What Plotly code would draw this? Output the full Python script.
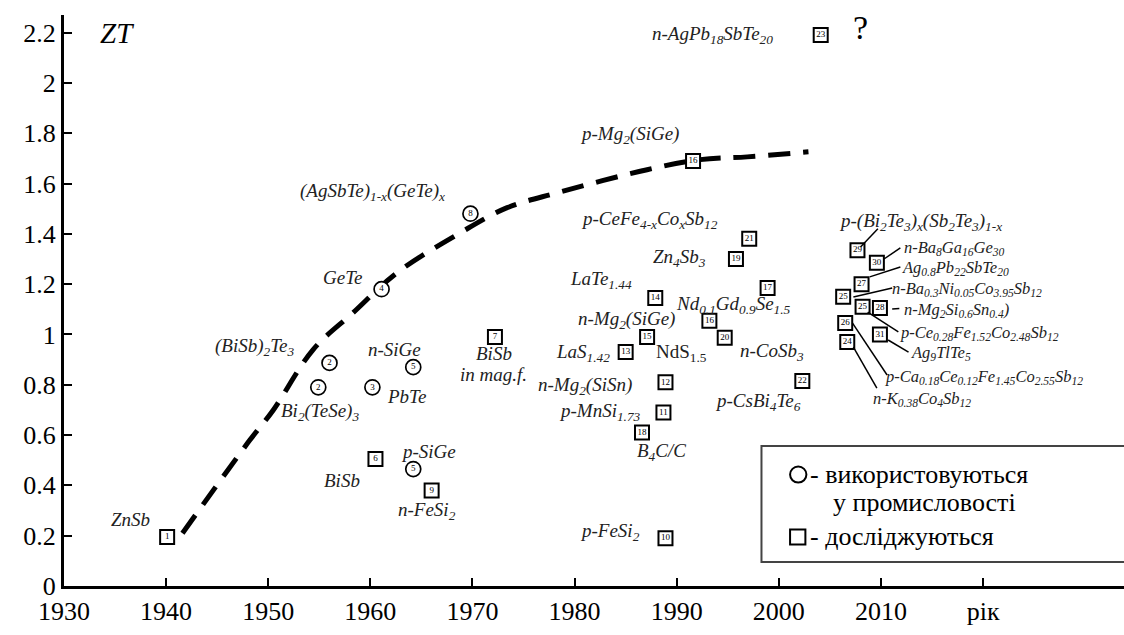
import plotly.graph_objects as go

# ---------------- data ----------------
# materials used in industry (circles)
circ_year = [1956.0, 1954.9, 1960.2, 1961.1, 1964.2, 1964.2, 1969.8]
circ_zt = [0.887, 0.79, 0.79, 1.18, 0.87, 0.465, 1.48]
circ_num = ["2", "2", "3", "4", "5", "5", "8"]

# materials under research (squares)
sq_year = [1940.1, 1960.5, 1972.2, 1966.0, 1988.9, 1988.7, 1988.9, 1985.0, 1987.9,
           1987.1, 1993.2, 1991.6, 1998.9, 1986.6, 1995.8, 1994.7, 1997.1, 2002.3,
           2004.1, 2007.7, 2009.6, 2008.1, 2006.3, 2008.2, 2009.9, 2006.5, 2009.9, 2006.7]
sq_zt = [0.195, 0.505, 0.99, 0.38, 0.19, 0.69, 0.81, 0.93, 1.145,
         0.99, 1.054, 1.69, 1.185, 0.61, 1.30, 0.987, 1.38, 0.815,
         2.19, 1.335, 1.285, 1.20, 1.15, 1.11, 1.105, 1.046, 1.00, 0.97]
sq_num = ["1", "6", "7", "9", "10", "11", "12", "13", "14",
          "15", "16", "16", "17", "18", "19", "20", "21", "22",
          "23", "29", "30", "27", "25", "25", "28", "26", "31", "24"]

# trend (dashed) curve
trend_year = [1941.6, 1948.2, 1950.5, 1954.4, 1958.3, 1962.6, 1968.8, 1973.4,
              1978.3, 1987.1, 1992.3, 1996.9, 2002.9]
trend_zt = [0.21, 0.58, 0.70, 0.94, 1.086, 1.245, 1.404, 1.504,
            1.563, 1.655, 1.695, 1.706, 1.726]

# material labels: (text, year, ZT, anchor, italic)
labels = [
    ("ZnSb", 1936.5, 0.266, "center", True),
    ("(BiSb)<sub>2</sub>Te<sub>3</sub>", 1948.7, 0.95, "center", True),
    ("Bi<sub>2</sub>(TeSe)<sub>3</sub>", 1955.1, 0.69, "center", True),
    ("PbTe", 1963.5, 0.755, "center", True),
    ("GeTe", 1957.3, 1.225, "center", True),
    ("n-SiGe", 1962.4, 0.94, "center", True),
    ("p-SiGe", 1965.7, 0.533, "center", True),
    ("BiSb", 1957.2, 0.42, "center", True),
    ("n-FeSi<sub>2</sub>", 1965.5, 0.30, "center", True),
    ("BiSb", 1972.1, 0.925, "center", True),
    ("in mag.f.", 1972.1, 0.842, "center", True),
    ("(AgSbTe)<sub>1-x</sub>(GeTe)<sub>x</sub>", 1960.2, 1.567, "center", True),
    ("p-Mg<sub>2</sub>(SiGe)", 1985.4, 1.793, "center", True),
    ("n-AgPb<sub>18</sub>SbTe<sub>20</sub>", 1993.5, 2.19, "center", True),
    ("p-CeFe<sub>4-x</sub>Co<sub>x</sub>Sb<sub>12</sub>", 1987.3, 1.455, "center", True),
    ("Zn<sub>4</sub>Sb<sub>3</sub>", 1990.3, 1.304, "center", True),
    ("LaTe<sub>1.44</sub>", 1982.6, 1.217, "center", True),
    ("Nd<sub>0.1</sub>Gd<sub>0.9</sub>Se<sub>1.5</sub>", 1995.6, 1.117, "center", True),
    ("n-Mg<sub>2</sub>(SiGe)", 1985.1, 1.058, "center", True),
    ("LaS<sub>1.42</sub>", 1980.8, 0.926, "center", True),
    ("NdS<sub>1.5</sub>", 1990.5, 0.926, "center", False),
    ("n-CoSb<sub>3</sub>", 1999.3, 0.93, "center", True),
    ("n-Mg<sub>2</sub>(SiSn)", 1981.0, 0.795, "center", True),
    ("p-MnSi<sub>1.73</sub>", 1982.5, 0.69, "center", True),
    ("B<sub>4</sub>C/C", 1988.5, 0.533, "center", True),
    ("p-FeSi<sub>2</sub>", 1983.5, 0.215, "center", True),
    ("p-CsBi<sub>4</sub>Te<sub>6</sub>", 1998.0, 0.73, "center", True),
    ("p-(Bi<sub>2</sub>Te<sub>3</sub>)<sub>x</sub>(Sb<sub>2</sub>Te<sub>3</sub>)<sub>1-x</sub>", 2013.9, 1.447, "center", True),
    ("n-Ba<sub>8</sub>Ga<sub>16</sub>Ge<sub>30</sub>", 2012.1, 1.344, "left", True),
    ("Ag<sub>0.8</sub>Pb<sub>22</sub>SbTe<sub>20</sub>", 2011.9, 1.264, "left", True),
    ("n-Ba<sub>0.3</sub>Ni<sub>0.05</sub>Co<sub>3.95</sub>Sb<sub>12</sub>", 2010.9, 1.180, "left", True),
    ("n-Mg<sub>2</sub>Si<sub>0.6</sub>Sn<sub>0.4</sub>)", 2012.1, 1.097, "left", True),
    ("p-Ce<sub>0.28</sub>Fe<sub>1.52</sub>Co<sub>2.48</sub>Sb<sub>12</sub>", 2011.7, 1.006, "left", True),
    ("Ag<sub>9</sub>TlTe<sub>5</sub>", 2012.7, 0.926, "left", True),
    ("p-Ca<sub>0.18</sub>Ce<sub>0.12</sub>Fe<sub>1.45</sub>Co<sub>2.55</sub>Sb<sub>12</sub>", 2010.2, 0.832, "left", True),
    ("n-K<sub>0.38</sub>Co<sub>4</sub>Sb<sub>12</sub>", 2009.0, 0.745, "left", True),
]

# leader lines in the right-hand cluster: (year0, zt0, year1, zt1)
leaders = [
    (2008.0, 1.348, 2009.7, 1.42),
    (2010.3, 1.30, 2011.9, 1.344),
    (2008.9, 1.229, 2011.9, 1.268),
    (2007.3, 1.149, 2011.1, 1.185),
    (2011.1, 1.101, 2011.8, 1.103),
    (2008.7, 1.089, 2011.7, 1.01),
    (2010.7, 0.978, 2012.7, 0.93),
    (2007.2, 1.046, 2010.6, 0.839),
    (2007.3, 0.95, 2009.6, 0.787),
]

x_ticks = [1930, 1940, 1950, 1960, 1970, 1980, 1990, 2000, 2010, 2020]
x_ticktext = ["1930", "1940", "1950", "1960", "1970", "1980", "1990", "2000", "2010", "рік"]
y_ticks = [0, 0.2, 0.4, 0.6, 0.8, 1.0, 1.2, 1.4, 1.6, 1.8, 2.0, 2.2]
y_ticktext = ["0", "0.2", "0.4", "0.6", "0.8", "1", "1.2", "1.4", "1.6", "1.8", "2", "2.2"]

legend_lines = ["- використовуються", "у промисловості", "- досліджуються"]

SERIF = "'Liberation Serif', 'DejaVu Serif', 'Times New Roman', serif"

fig = go.Figure()

fig.add_trace(go.Scatter(
    x=trend_year, y=trend_zt, mode="lines", line_shape="spline",
    line=dict(color="black", width=5, dash="22px,13px"), hoverinfo="skip"))

fig.add_trace(go.Scatter(
    x=circ_year, y=circ_zt, mode="markers+text", text=circ_num,
    textposition="middle center", textfont=dict(family=SERIF, size=9, color="black"),
    marker=dict(symbol="circle", size=15, color="white", line=dict(color="black", width=1.7))))

fig.add_trace(go.Scatter(
    x=sq_year, y=sq_zt, mode="markers+text", text=sq_num,
    textposition="middle center", textfont=dict(family=SERIF, size=9, color="black"),
    marker=dict(symbol="square", size=14, color="white", line=dict(color="black", width=2))))

anns = []
for txt, xx, yy, anc, it in labels:
    fs = 16.5 if anc == "left" else 19
    anns.append(dict(x=xx, y=yy, xref="x", yref="y", showarrow=False,
                     text=("<i>%s</i>" % txt) if it else txt, xanchor=anc, yanchor="middle",
                     font=dict(family=SERIF, size=fs, color="#222")))

anns.append(dict(x=0.05, y=2.2, xref="paper", yref="y", showarrow=False, text="<i>ZT</i>",
                 xanchor="center", yanchor="middle", font=dict(family=SERIF, size=29, color="black")))
anns.append(dict(x=2008.0, y=2.22, xref="x", yref="y", showarrow=False, text="?",
                 xanchor="center", yanchor="middle", font=dict(family=SERIF, size=34, color="black")))

# legend text
anns.append(dict(x=2002.9, y=0.445, xref="x", yref="y", showarrow=False, text=legend_lines[0],
                 xanchor="left", yanchor="middle", font=dict(family=SERIF, size=26, color="black")))
anns.append(dict(x=2005.1, y=0.330, xref="x", yref="y", showarrow=False, text=legend_lines[1],
                 xanchor="left", yanchor="middle", font=dict(family=SERIF, size=26, color="black")))
anns.append(dict(x=2002.9, y=0.195, xref="x", yref="y", showarrow=False, text=legend_lines[2],
                 xanchor="left", yanchor="middle", font=dict(family=SERIF, size=26, color="black")))

shapes = []
for x0, y0, x1, y1 in leaders:
    shapes.append(dict(type="line", x0=x0, y0=y0, x1=x1, y1=y1, xref="x", yref="y",
                       line=dict(color="black", width=1.5)))
# legend frame and symbols
shapes.append(dict(type="rect", x0=1998.3, x1=2040, y0=0.095, y1=0.557, xref="x", yref="y",
                   line=dict(color="#444", width=2)))
shapes.append(dict(type="circle", x0=2001.1, x1=2002.7, y0=0.411, y1=0.475, xref="x", yref="y",
                   line=dict(color="black", width=2)))
shapes.append(dict(type="rect", x0=2001.1, x1=2002.6, y0=0.165, y1=0.225, xref="x", yref="y",
                   line=dict(color="black", width=2)))

fig.update_layout(
    width=1124, height=635,
    margin=dict(l=64, r=0, t=15, b=49),
    paper_bgcolor="white", plot_bgcolor="white",
    showlegend=False,
    annotations=anns, shapes=shapes,
    font=dict(family=SERIF, color="black"),
)
fig.update_xaxes(range=[1930, 2033.8], tickvals=x_ticks, ticktext=x_ticktext,
                 showgrid=False, zeroline=False, showline=True, linecolor="black", linewidth=3,
                 ticks="inside", ticklen=8, tickwidth=2, tickcolor="black",
                 tickfont=dict(family=SERIF, size=26, color="black"))
fig.update_yaxes(range=[0, 2.27], tickvals=y_ticks, ticktext=y_ticktext,
                 showgrid=False, zeroline=False, showline=True, linecolor="black", linewidth=3,
                 ticks="inside", ticklen=8, tickwidth=2, tickcolor="black",
                 tickfont=dict(family=SERIF, size=26, color="black"))

fig.write_html("out.html")
